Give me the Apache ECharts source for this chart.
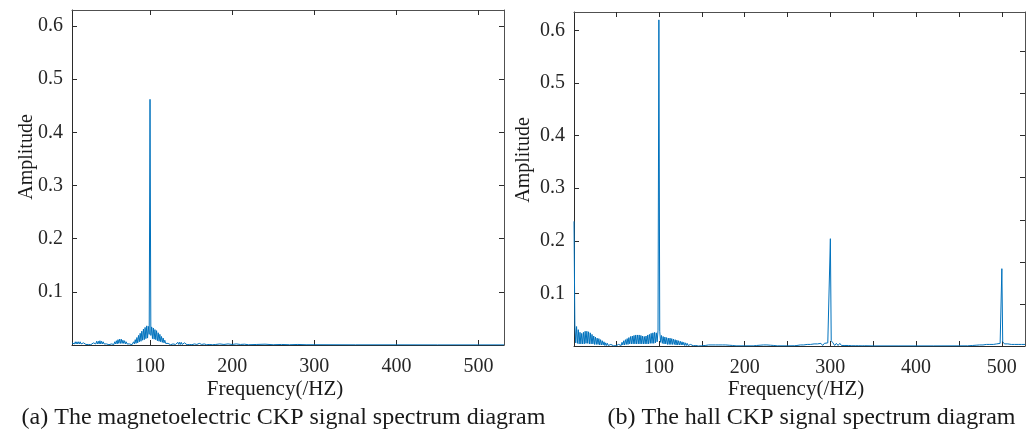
<!DOCTYPE html>
<html>
<head>
<meta charset="utf-8">
<title>CKP signal spectrum diagrams</title>
<script src="https://cdn.jsdelivr.net/npm/echarts@6/dist/echarts.min.js"></script>
<style>
  html, body { margin: 0; padding: 0; background: #ffffff; }
  #chart { width: 1033px; height: 432px; }
</style>
</head>
<body>
<div id="chart"></div>
<script>
// Amplitude spectrum of the magnetoelectric CKP signal: [frequency (Hz), amplitude]
const spectrumMagneto = [
  [5,.004],[6,.001],[7,.005],[8,.002],[9,.006],[10,.002],[11,.006],[12,.002],[13,.006],[14,.002],
  [15,.006],[16,.002],[17,.005],[18,.002],[19,.004],[20,.001],[21,.003],[22,.001],[23,.002],[24,.0005],
  [25,.001],[26,.0005],[27,.001],[28,.0005],
  [29,.002],[30,.0005],[31,.004],[32,.001],[33,.005],[34,.002],[35,.007],[36,.002],[37,.007],[38,.002],
  [39,.008],[40,.002],[41,.007],[42,.002],[43,.006],[44,.002],[45,.004],[46,.001],[47,.002],[48,.0005],
  [49,.001],[50,.0005],[51,.001],[52,.0005],
  [53,.002],[54,.0005],[55,.004],[56,.001],[57,.006],[58,.002],[59,.008],[60,.002],[61,.010],[62,.003],
  [63,.011],[64,.003],[65,.011],[66,.003],[67,.009],[68,.003],[69,.008],[70,.002],[71,.006],[72,.002],
  [73,.004],[74,.001],[75,.002],[76,.0005],[77,.001],[78,.0005],
  [79,.001],[80,.006],[81,.002],[82,.010],[83,.003],[84,.014],[85,.004],[86,.018],[87,.006],[88,.022],
  [89,.007],[90,.026],[91,.009],[92,.030],[93,.010],[94,.033],[95,.012],[96,.036],[97,.013],[98,.035],
  [99,.020],[100,.462],[101,.018],[102,.034],[103,.012],[104,.032],[105,.011],[106,.029],[107,.010],[108,.027],
  [109,.008],[110,.023],[111,.007],[112,.020],[113,.006],[114,.016],[115,.005],[116,.013],[117,.004],[118,.009],
  [119,.003],[120,.006],[121,.001],[122,.003],[123,.0005],
  [124,.001],[125,.0005],[126,.001],[127,.0005],[128,.002],[129,.0005],[130,.003],[131,.001],[132,.004],[133,.001],
  [134,.005],[135,.001],[136,.005],[137,.001],[138,.005],[139,.001],[140,.004],[141,.001],[142,.004],[143,.001],
  [144,.003],[145,.0005],[146,.002],[147,.0005],[148,.001],[149,.0005],[150,.001],[151,.0005],[152,.001],
  [154,.002],[155,.0005],[156,.003],[157,.001],[158,.003],[159,.001],[160,.003],[161,.001],[162,.003],[163,.001],
  [164,.003],[165,.001],[166,.002],[167,.0005],[168,.002],[169,.0005],[170,.002],[171,.0005],[172,.001],[173,.0005],
  [174,.001],[176,.0005],
  [180,.001],[185,.002],[190,.001],[195,.002],[200,.001],[205,.002],[210,.001],[215,.0015],[220,.0005],[230,.001],
  [240,.0015],[250,.0005],[260,.001],[270,.0005],[280,.001],[290,.0005],[300,.0005],[350,.0003],[400,.0003],[450,.0002],
  [500,.0002],[531,.0002]
];

// Amplitude spectrum of the hall CKP signal: [frequency (Hz), amplitude]
const spectrumHall = [
  [1,.237],[2,.040],[3,.006],[4,.037],[5,.005],[6,.031],[7,.004],[8,.026],[9,.004],[10,.024],
  [11,.004],[12,.026],[13,.004],[14,.028],[15,.005],[16,.028],[17,.005],[18,.027],[19,.004],[20,.025],
  [21,.004],[22,.022],[23,.004],[24,.019],[25,.003],[26,.017],[27,.003],[28,.015],[29,.003],[30,.014],
  [31,.002],[32,.012],[33,.002],[34,.010],[35,.002],[36,.008],[37,.001],[38,.006],[39,.001],[40,.005],
  [41,.001],[42,.004],[43,.001],[44,.003],[45,.0005],[46,.002],[47,.0005],[48,.001],[49,0],[50,.0005],
  [51,.001],[52,.0005],[53,.003],[54,.001],[55,.005],[56,.001],[57,.007],[58,.002],[59,.010],[60,.002],
  [61,.012],[62,.003],[63,.014],[64,.003],[65,.016],[66,.004],[67,.018],[68,.004],[69,.019],[70,.004],
  [71,.020],[72,.004],[73,.021],[74,.004],[75,.021],[76,.004],[77,.021],[78,.004],[79,.020],[80,.004],
  [81,.019],[82,.004],[83,.018],[84,.004],[85,.019],[86,.004],[87,.021],[88,.004],[89,.022],[90,.005],
  [91,.024],[92,.005],[93,.025],[94,.005],[95,.026],[96,.006],[97,.025],[98,.008],[99,.030],[100,.620],
  [101,.028],[102,.007],[103,.020],[104,.005],[105,.018],[106,.004],[107,.017],[108,.004],[109,.016],[110,.003],
  [111,.015],[112,.003],[113,.015],[114,.003],[115,.014],[116,.003],[117,.013],[118,.003],[119,.012],[120,.002],
  [121,.011],[122,.002],[123,.010],[124,.002],[125,.009],[126,.002],[127,.008],[128,.002],[129,.007],[130,.001],
  [131,.006],[132,.001],[133,.005],[134,.001],[135,.004],[136,.001],[137,.003],[138,.001],[139,.003],[140,.0005],
  [141,.002],[142,.0005],[143,.001],[144,.0005],[145,.001],[146,0],
  [150,.0005],[154,.001],[156,.0003],[158,.002],[160,.0005],[162,.002],[164,.0005],[166,.002],[168,.0005],[170,.002],
  [172,.0005],[174,.002],[176,.0005],[178,.002],[180,.0005],[182,.0015],[184,.0003],[186,.001],[190,.0003],[200,.0003],
  [210,.0003],[214,.001],[216,.0003],[218,.0015],[220,.0003],[222,.002],[224,.0005],[226,.002],[228,.0005],[230,.0015],
  [232,.0003],[234,.001],[238,.0003],[250,.0003],[258,.0005],
  [261,.001],[263,.0003],[265,.002],[267,.0005],[269,.002],[271,.0005],[273,.003],[275,.001],[277,.003],[279,.001],
  [281,.004],[283,.001],[285,.004],[287,.001],[289,.005],[291,.001],[293,.005],[295,.002],[297,.006],[299,.008],
  [300,.204],[301,.010],[303,.006],[305,.001],[307,.005],[309,.001],[311,.005],[313,.001],[315,.004],[317,.001],
  [319,.004],[321,.001],[323,.003],[325,.0005],[327,.003],[329,.0005],[331,.002],[333,.0005],[335,.001],[337,.0003],
  [340,.0005],[350,.0002],[380,.0002],[420,.0002],[460,.0003],
  [466,.001],[468,.0003],[470,.0015],[472,.0005],[474,.002],[476,.0005],[478,.002],[480,.0005],[482,.003],[484,.0005],
  [486,.003],[488,.001],[490,.003],[492,.001],[494,.004],[496,.001],[498,.005],[499,.007],[500,.147],[501,.008],
  [503,.004],[505,.001],[507,.004],[509,.001],[511,.003],[513,.001],[515,.003],[517,.001],[519,.003],[521,.001],
  [523,.003],[525,.001],[527,.003]
];

// Axis ranges and tick positions
const freqRangeMagneto = [5, 531];
const freqRangeHall = [1, 527];
const freqLabelValues = [100, 200, 300, 400, 500];
const freqTicksMagneto = [100, 200, 300, 400, 500];
const freqTicksHall = [50, 100, 150, 200, 250, 300, 350, 400, 450, 500];
const ampMaxMagneto = 0.63;
const ampMaxHall = 0.635;
const ampLabelValues = [0.1, 0.2, 0.3, 0.4, 0.5, 0.6];
const ampRightTicksHall = [0.08, 0.16, 0.24, 0.32, 0.40, 0.48, 0.56];

// Texts
const axisNameX = 'Frequency(/HZ)';
const axisNameY = 'Amplitude';
const captionMagneto = '(a) The magnetoelectric CKP signal spectrum diagram';
const captionHall = '(b) The hall CKP signal spectrum diagram';

const FONT = '"Liberation Serif", "Times New Roman", serif';
const INK = '#262626';
const FRAME_DARK = '#2b2b2b';
const FRAME_LIGHT = '#505050';
const LINE_BLUE = '#0072BD';

function xAxisPair(gridIndex, range, ticks) {
  const common = {
    type: 'value', gridIndex: gridIndex, min: range[0], max: range[1],
    splitLine: { show: false }
  };
  return [
    Object.assign({}, common, {
      position: 'bottom',
      axisLine: { show: true, onZero: false, lineStyle: { color: FRAME_DARK, width: 1 } },
      axisTick: { show: true, inside: true, length: 5, customValues: ticks, lineStyle: { color: FRAME_DARK } },
      axisLabel: { show: true, customValues: freqLabelValues, margin: 12, color: INK, fontFamily: FONT, fontSize: 20 }
    }),
    Object.assign({}, common, {
      position: 'top',
      axisLine: { show: true, onZero: false, lineStyle: { color: FRAME_LIGHT, width: 1 } },
      axisTick: { show: true, inside: true, length: 5, customValues: ticks, lineStyle: { color: FRAME_DARK } },
      axisLabel: { show: false }
    })
  ];
}

function yAxisPair(gridIndex, max, rightTicks) {
  const common = {
    type: 'value', gridIndex: gridIndex, min: 0, max: max,
    splitLine: { show: false }
  };
  return [
    Object.assign({}, common, {
      position: 'left',
      axisLine: { show: true, onZero: false, lineStyle: { color: FRAME_DARK, width: 1 } },
      axisTick: { show: true, inside: true, length: 5, customValues: ampLabelValues, lineStyle: { color: FRAME_DARK } },
      axisLabel: { show: true, customValues: ampLabelValues, margin: 9, color: INK, fontFamily: FONT, fontSize: 20 }
    }),
    Object.assign({}, common, {
      position: 'right',
      axisLine: { show: true, onZero: false, lineStyle: { color: FRAME_LIGHT, width: 1 } },
      axisTick: { show: true, inside: true, length: 5, customValues: rightTicks, lineStyle: { color: FRAME_DARK } },
      axisLabel: { show: false }
    })
  ];
}

function centeredText(x, y, text, size, rotation) {
  return {
    type: 'text', x: x, y: y, rotation: rotation || 0,
    style: {
      text: text, fill: '#1a1a1a', font: size + 'px ' + FONT,
      textAlign: 'center', textVerticalAlign: 'middle'
    }
  };
}

const chart = echarts.init(document.getElementById('chart'), null, { renderer: 'canvas', width: 1033, height: 432 });

chart.setOption({
  animation: false,
  backgroundColor: '#ffffff',
  grid: [
    { left: 72, top: 10, width: 432, height: 335 },
    { left: 574, top: 12, width: 451, height: 334 }
  ],
  xAxis: [].concat(
    xAxisPair(0, freqRangeMagneto, freqTicksMagneto),
    xAxisPair(1, freqRangeHall, freqTicksHall)
  ),
  yAxis: [].concat(
    yAxisPair(0, ampMaxMagneto, ampLabelValues),
    yAxisPair(1, ampMaxHall, ampRightTicksHall)
  ),
  series: [
    {
      type: 'line', xAxisIndex: 0, yAxisIndex: 0, data: spectrumMagneto,
      showSymbol: false, symbol: 'none', clip: true,
      lineStyle: { color: LINE_BLUE, width: 1 }, z: 5
    },
    {
      type: 'line', xAxisIndex: 2, yAxisIndex: 2, data: spectrumHall,
      showSymbol: false, symbol: 'none', clip: true,
      lineStyle: { color: LINE_BLUE, width: 1 }, z: 5
    }
  ],
  graphic: [
    centeredText(27, 157, axisNameY, 20, Math.PI / 2),
    centeredText(524, 160, axisNameY, 20, Math.PI / 2),
    centeredText(275, 389.5, axisNameX, 21),
    centeredText(796, 389.5, axisNameX, 21),
    centeredText(283.5, 418, captionMagneto, 24),
    centeredText(811.5, 418, captionHall, 24)
  ]
});
</script>
</body>
</html>
